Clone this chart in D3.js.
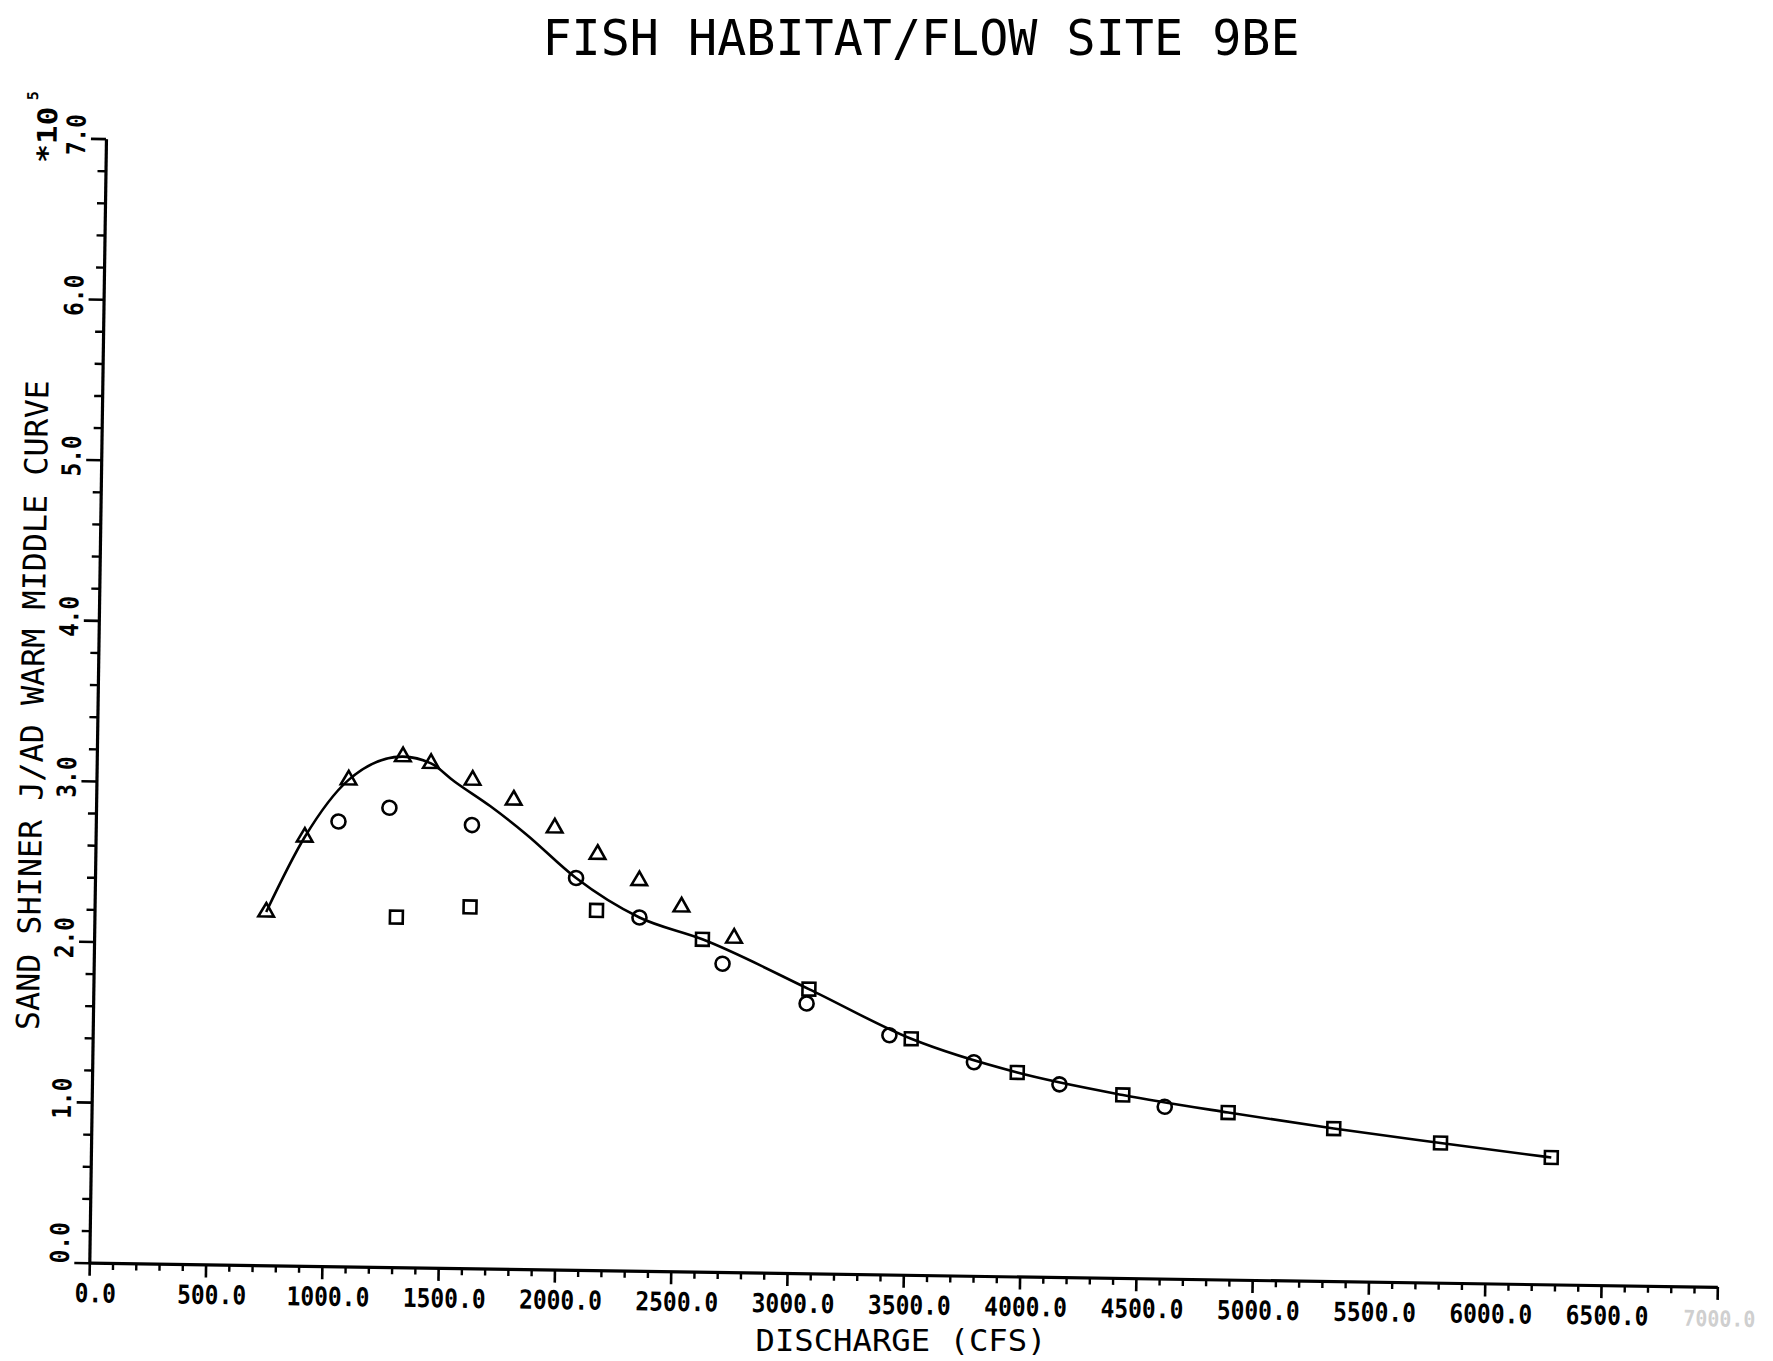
<!DOCTYPE html>
<html>
<head>
<meta charset="utf-8">
<script src="https://cdn.jsdelivr.net/npm/d3@7"></script>
<style>
  html, body { margin: 0; padding: 0; background: #fff; }
  svg { display: block; }
  text { font-family: "DejaVu Sans Mono", "Liberation Mono", monospace; }
</style>
</head>
<body>
<svg id="chart" width="1773" height="1361"></svg>
<script>
// ---- data (habitat in units of 10^5, discharge in cfs) ----
const xMajorTicks = [0, 500, 1000, 1500, 2000, 2500, 3000, 3500, 4000, 4500, 5000, 5500, 6000, 6500, 7000];
const xTickLabels = ["0.0", "500.0", "1000.0", "1500.0", "2000.0", "2500.0", "3000.0", "3500.0",
                     "4000.0", "4500.0", "5000.0", "5500.0", "6000.0", "6500.0", "7000.0"];
const yMajorTicks = [0, 1, 2, 3, 4, 5, 6, 7];
const yTickLabels = ["0.0", "1.0", "2.0", "3.0", "4.0", "5.0", "6.0", "7.0"];

const triangleQ = [738, 899, 1084, 1316, 1437, 1617, 1795, 1973, 2159, 2340, 2523, 2751];
const triangleH = [2.20, 2.67, 3.03, 3.18, 3.14, 3.04, 2.92, 2.75, 2.59, 2.43, 2.27, 2.08];

const circleQ = [1043, 1261, 1617, 2068, 2343, 2703, 3067, 3425, 3790, 4159, 4613];
const circleH = [2.77, 2.86, 2.76, 2.44, 2.20, 1.92, 1.68, 1.49, 1.33, 1.20, 1.07];

const squareQ = [1298, 1614, 2158, 2615, 3076, 3519, 3977, 4432, 4886, 5341, 5801, 6278];
const squareH = [2.18, 2.25, 2.24, 2.07, 1.77, 1.47, 1.27, 1.14, 1.04, 0.95, 0.87, 0.79];

const curveQ = [738, 899, 1084, 1316, 1437, 1539, 1694, 1849, 2068, 2343, 2615, 3076, 3519, 3977, 4432, 4886, 5341, 5801, 6278];
const curveH = [2.20, 2.67, 3.03, 3.18, 3.14, 3.03, 2.88, 2.71, 2.44, 2.20, 2.07, 1.77, 1.47, 1.27, 1.14, 1.04, 0.95, 0.87, 0.79];

const titleText = "FISH HABITAT/FLOW SITE 9BE";
const xTitle = "DISCHARGE (CFS)";
const yTitle = "SAND SHINER J/AD WARM MIDDLE CURVE";

// ---- layout ----
const originX = 89.3, originY = 1262.7;
const plotTilt = 0.85;              // the whole plotter frame sits slightly askew
const svg = d3.select("#chart");

const x = d3.scaleLinear().domain([0, 7000]).range([originX, originX + 1628.2]);
const y = d3.scaleLinear().domain([0, 7]).range([originY, originY - 7 * 160.6]);

const mono = (sel, size, weight) => sel.style("font-size", size + "px").style("font-weight", weight);

// title
svg.append("text")
  .attr("x", 921).attr("y", 55)
  .attr("text-anchor", "middle")
  .attr("textLength", 757).attr("lengthAdjust", "spacingAndGlyphs")
  .style("fill", "#000")
  .call(mono, 50, "normal")
  .text(titleText);

// x axis title, below the tilted frame
svg.append("text")
  .attr("x", 901).attr("y", 1351)
  .attr("text-anchor", "middle")
  .attr("textLength", 291).attr("lengthAdjust", "spacingAndGlyphs")
  .style("fill", "#000")
  .call(mono, 30, "normal")
  .text(xTitle);

const g = svg.append("g").attr("transform", `rotate(${plotTilt}, ${originX}, ${originY})`);

// ---- x axis ----
const xMinor = d3.range(0, 7001, 100).filter(v => v % 500 !== 0);
g.append("g")
  .attr("transform", `translate(0, ${originY})`)
  .call(d3.axisBottom(x).tickValues(xMinor).tickSize(7).tickSizeOuter(0).tickFormat(""))
  .call(s => s.select(".domain").remove())
  .call(s => s.selectAll("line").attr("stroke", "#000").attr("stroke-width", 2.4));

const xAxisG = g.append("g")
  .attr("transform", `translate(0, ${originY})`)
  .call(d3.axisBottom(x).tickValues(xMajorTicks).tickSize(13).tickSizeOuter(0)
        .tickFormat((d, i) => xTickLabels[i]));
xAxisG.select(".domain").attr("stroke", "#000").attr("stroke-width", 3.2);
xAxisG.selectAll("line").attr("stroke", "#000").attr("stroke-width", 2.6);
xAxisG.attr("font-family", null).attr("font-size", null);
xAxisG.selectAll("text")
  .attr("x", 6).attr("y", 39.5).attr("dy", 0)
  .attr("text-anchor", "middle")
  .attr("textLength", (d, i) => xTickLabels[i].length * 13.8)
  .attr("lengthAdjust", "spacingAndGlyphs")
  .style("fill", d => d === 7000 ? "#cfcfcf" : "#000")
  .call(mono, 26, "bold")
  .filter(d => d === 7000)
  .attr("x", 2)
  .attr("textLength", 72)
  .style("font-size", "22px");

// ---- y axis ----
const yMinor = d3.range(0, 7.001, 0.2).filter(v => Math.abs(v - Math.round(v)) > 1e-6);
g.append("g")
  .attr("transform", `translate(${originX}, 0)`)
  .call(d3.axisLeft(y).tickValues(yMinor).tickSize(8).tickSizeOuter(0).tickFormat(""))
  .call(s => s.select(".domain").remove())
  .call(s => s.selectAll("line").attr("stroke", "#000").attr("stroke-width", 2.4));

const yAxisG = g.append("g")
  .attr("transform", `translate(${originX}, 0)`)
  .call(d3.axisLeft(y).tickValues(yMajorTicks).tickSize(15).tickSizeOuter(0)
        .tickFormat((d, i) => yTickLabels[i]));
yAxisG.select(".domain").attr("stroke", "#000").attr("stroke-width", 3.2);
yAxisG.selectAll("line").attr("stroke", "#000").attr("stroke-width", 2.6);
yAxisG.attr("font-family", null).attr("font-size", null);
yAxisG.selectAll("text")
  .attr("x", 0).attr("dy", "0.36em")
  .attr("transform", d => `translate(-30, ${d === 0 ? -20 : -4}) rotate(-90)`)
  .attr("text-anchor", "middle")
  .attr("textLength", (d, i) => yTickLabels[i].length * 13.7)
  .attr("lengthAdjust", "spacingAndGlyphs")
  .style("fill", "#000")
  .call(mono, 26, "bold");

// scale multiplier
g.append("text")
  .attr("transform", `translate(${originX - 59}, ${y(7) - 3}) rotate(-90)`)
  .attr("dy", "0.36em").attr("text-anchor", "middle")
  .attr("textLength", 56).attr("lengthAdjust", "spacingAndGlyphs")
  .style("fill", "#000")
  .call(mono, 27, "bold")
  .text("*10");
g.append("text")
  .attr("transform", `translate(${originX - 74}, ${y(7) - 42}) rotate(-90)`)
  .attr("dy", "0.36em").attr("text-anchor", "middle")
  .style("fill", "#000")
  .call(mono, 15, "bold")
  .text("5");

// y axis title
g.append("text")
  .attr("transform", `translate(24, 706) rotate(-90)`)
  .attr("dy", "0.36em").attr("text-anchor", "middle")
  .attr("textLength", 650).attr("lengthAdjust", "spacingAndGlyphs")
  .style("fill", "#000")
  .call(mono, 31.5, "normal")
  .text(yTitle);

// ---- middle curve ----
const curvePts = curveQ.map((q, i) => [q, curveH[i]]);
g.append("path")
  .datum(curvePts)
  .attr("fill", "none").attr("stroke", "#000").attr("stroke-width", 2.6)
  .attr("stroke-linejoin", "round")
  .attr("d", d3.line().curve(d3.curveMonotoneX).x(d => x(d[0])).y(d => y(d[1])));

// ---- point series ----
const series = [
  { q: triangleQ, h: triangleH, type: d3.symbolTriangle, size: 105 },
  { q: circleQ,   h: circleH,   type: d3.symbolCircle,   size: 155 },
  { q: squareQ,   h: squareH,   type: d3.symbolSquare,   size: 165 }
];
series.forEach(s => {
  g.append("g").selectAll("path")
    .data(s.q.map((q, i) => [q, s.h[i]]))
    .join("path")
    .attr("transform", d => `translate(${x(d[0])}, ${y(d[1])})`)
    .attr("d", d3.symbol().type(s.type).size(s.size))
    .attr("fill", "none").attr("stroke", "#000").attr("stroke-width", 2.6);
});
</script>
</body>
</html>
